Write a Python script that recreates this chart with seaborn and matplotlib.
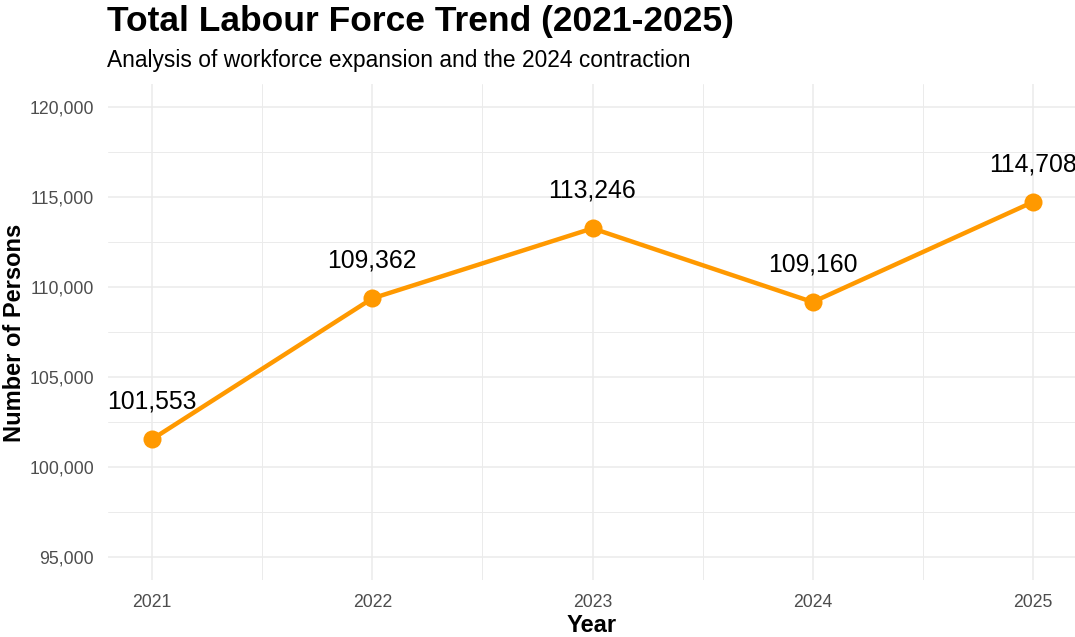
import matplotlib
matplotlib.use("Agg")
import matplotlib.pyplot as plt
import seaborn as sns
import pandas as pd
from matplotlib.ticker import FuncFormatter, MultipleLocator

years = [2021, 2022, 2023, 2024, 2025]
labour_force = [101553, 109362, 113246, 109160, 114708]
y_ticks = [95000, 100000, 105000, 110000, 115000, 120000]

sns.set_theme(style="whitegrid")
plt.rcParams["font.family"] = ["Liberation Sans", "DejaVu Sans"]

df = pd.DataFrame({"Year": years, "Persons": labour_force})
color = "#FF9900"

fig = plt.figure(figsize=(10.75, 6.37), dpi=100)
W, H = 1075, 637
left, right, top, bottom = 108, 1077, 84, 580
ax = fig.add_axes([left / W, 1 - bottom / H, (right - left) / W, (bottom - top) / H])
ax.set_facecolor("white")

sns.lineplot(data=df, x="Year", y="Persons", ax=ax, color=color, linewidth=3.2,
             marker="o", markersize=13, markeredgewidth=0, zorder=3)

for x, y in zip(years, labour_force):
    ax.annotate(f"{y:,}", (x, y), xytext=(0, 27), textcoords="offset points",
                ha="center", va="center", fontsize=17.8, color="black",
                annotation_clip=False, clip_on=False)

ax.set_xlim(2020.8, 2025.2)
ax.set_ylim(93750, 121250)
ax.set_xticks(years)
ax.set_xticklabels([str(y) for y in years])
ax.set_yticks(y_ticks)
ax.yaxis.set_major_formatter(FuncFormatter(lambda v, p: f"{int(v):,}"))
ax.xaxis.set_minor_locator(MultipleLocator(0.5))
ax.yaxis.set_minor_locator(MultipleLocator(2500))

ax.grid(which="major", color="#EBEBEB", linewidth=1.1)
ax.grid(which="minor", color="#EBEBEB", linewidth=0.7)
ax.set_axisbelow(True)
for s in ax.spines.values():
    s.set_visible(False)
ax.tick_params(axis="both", which="both", length=0, labelsize=12.7, labelcolor="#4D4D4D")
ax.tick_params(axis="x", pad=10)
ax.tick_params(axis="y", pad=10)

ax.set_xlabel("Year", fontsize=17, fontweight="bold", color="black", va="center")
ax.set_ylabel("Number of Persons", fontsize=17, fontweight="bold", color="black",
              va="center", ha="center")
ax.xaxis.set_label_coords((592 - left) / (right - left), -(626 - bottom) / (bottom - top))
ax.yaxis.set_label_coords(-(left - 14) / (right - left), 1 - (333 - top) / (bottom - top))

fig.text(107 / W, 1 - 21 / H, "Total Labour Force Trend (2021-2025)", fontsize=25.5,
         fontweight="bold", ha="left", va="center", color="black")
fig.text(107 / W, 1 - 60 / H, "Analysis of workforce expansion and the 2024 contraction",
         fontsize=16.4, ha="left", va="center", color="black")

fig.savefig("out.png", dpi=100, facecolor="white")
